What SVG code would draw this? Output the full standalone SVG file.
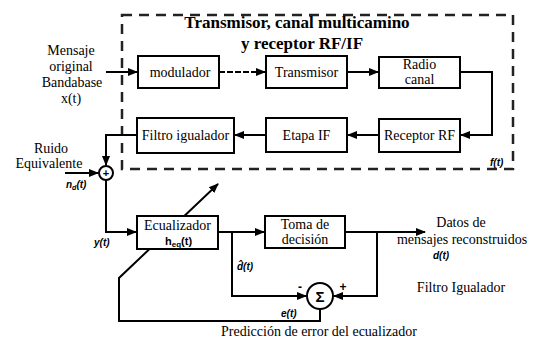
<svg xmlns="http://www.w3.org/2000/svg" width="546" height="341" viewBox="0 0 546 341">
<defs>
<marker id="ah" viewBox="0 0 10 10" refX="9" refY="5" markerWidth="5" markerHeight="5" orient="auto-start-reverse">
<path d="M0,1 L10,5 L0,9 z" fill="#000"/>
</marker>
<style>
.box{fill:#fff;stroke:#000;stroke-width:2}
.ln{fill:none;stroke:#000;stroke-width:2}
.t{font-family:"Liberation Serif","Times New Roman",serif;font-size:14px;fill:#000}
.tb{font-family:"Liberation Serif","Times New Roman",serif;font-size:17px;font-weight:bold;fill:#000}
.lab{font-family:"Liberation Sans",sans-serif;font-size:10px;font-weight:bold;font-style:italic;fill:#000}
</style>
</defs>
<rect width="546" height="341" fill="#fff"/>
<g id="frame">
<rect x="122" y="15" width="391" height="154" fill="none" stroke="#222" stroke-width="2.5" stroke-dasharray="10,7"/>
<text class="tb" x="297" y="28" text-anchor="middle">Transmisor, canal multicamino</text>
<text class="tb" x="302" y="49" text-anchor="middle">y receptor RF/IF</text>
<text class="lab" x="490" y="166">f(t)</text>
</g>
<g id="connectors">
<line class="ln" x1="106" y1="72" x2="137" y2="72" marker-end="url(#ah)"/>
<line class="ln" x1="219" y1="72" x2="265" y2="72" stroke-dasharray="6,2" marker-end="url(#ah)"/>
<line class="ln" x1="347" y1="72" x2="378" y2="72" marker-end="url(#ah)"/>
<polyline class="ln" points="460,72 492,72 492,135 461,135" marker-end="url(#ah)"/>
<line class="ln" x1="379" y1="135" x2="348" y2="135" marker-end="url(#ah)"/>
<line class="ln" x1="265" y1="135" x2="235" y2="135" marker-end="url(#ah)"/>
<polyline class="ln" points="137,135 106,135 106,165" marker-end="url(#ah)"/>
<line class="ln" x1="65" y1="173" x2="98" y2="173" marker-end="url(#ah)"/>
<polyline class="ln" points="106,180 106,232 136,232" marker-end="url(#ah)"/>
<line class="ln" x1="218" y1="232" x2="264" y2="232" marker-end="url(#ah)"/>
<line class="ln" x1="345" y1="232" x2="425" y2="232" marker-end="url(#ah)"/>
<polyline class="ln" points="377,232 377,296 334,296" marker-end="url(#ah)"/>
<polyline class="ln" points="232,232 232,296 306,296" marker-end="url(#ah)"/>
<polyline class="ln" points="320,309 320,321 119,321 119,278 218,184" marker-end="url(#ah)"/>
</g>
<g id="input">
<text class="t" x="71" y="55" text-anchor="middle">Mensaje</text>
<text class="t" x="71" y="71" text-anchor="middle">original</text>
<text class="t" x="72" y="87" text-anchor="middle">Bandabase</text>
<text class="t" x="71" y="103" text-anchor="middle">x(t)</text>
</g>
<g id="noise">
<text class="t" x="51" y="153" text-anchor="middle">Ruido</text>
<text class="t" x="49" y="168" text-anchor="middle">Equivalente</text>
<text class="lab" x="66" y="188">n<tspan font-size="7" dy="2">d</tspan><tspan dy="-2">(t)</tspan></text>
</g>
<g id="modulador">
<rect class="box" x="138" y="56" width="81" height="32"/>
<text class="t" x="180" y="77" text-anchor="middle">modulador</text>
</g>
<g id="transmisor">
<rect class="box" x="266" y="56" width="81" height="32"/>
<text class="t" x="306.5" y="77" text-anchor="middle">Transmisor</text>
</g>
<g id="radio-canal">
<rect class="box" x="379" y="57" width="81" height="31"/>
<text class="t" x="419.5" y="69" text-anchor="middle">Radio</text>
<text class="t" x="419.5" y="84" text-anchor="middle">canal</text>
</g>
<g id="receptor-rf">
<rect class="box" x="379" y="119" width="81" height="33"/>
<text class="t" x="419.5" y="140" text-anchor="middle">Receptor RF</text>
</g>
<g id="etapa-if">
<rect class="box" x="266" y="118" width="81" height="34"/>
<text class="t" x="306.5" y="140" text-anchor="middle">Etapa IF</text>
</g>
<g id="filtro-igualador">
<rect class="box" x="137" y="118" width="97" height="35"/>
<text class="t" x="185.5" y="140" text-anchor="middle">Filtro igualador</text>
</g>
<g id="suma">
<circle cx="106" cy="173" r="7" fill="#fff" stroke="#000" stroke-width="2"/>
<text x="106" y="177" text-anchor="middle" font-family="Liberation Sans,sans-serif" font-size="11" font-weight="bold">+</text>
</g>
<g id="ecualizador">
<rect class="box" x="137" y="216" width="81" height="33"/>
<text class="t" x="177.5" y="230" text-anchor="middle">Ecualizador</text>
<text x="165" y="245" font-family="Liberation Sans,sans-serif" font-size="11" font-weight="bold">h<tspan font-size="8" dy="2">eq</tspan><tspan dy="-2">(t)</tspan></text>
<text class="lab" x="94" y="246">y(t)</text>
</g>
<g id="toma-decision">
<rect class="box" x="265" y="216" width="80" height="32"/>
<text class="t" x="305" y="229" text-anchor="middle">Toma de</text>
<text class="t" x="305" y="244" text-anchor="middle">decisión</text>
</g>
<g id="sigma">
<circle cx="320" cy="296" r="13" fill="#fff" stroke="#000" stroke-width="2"/>
<text x="320" y="302" text-anchor="middle" font-family="Liberation Sans,sans-serif" font-size="15" font-weight="bold">Σ</text>
<text x="300" y="291" text-anchor="middle" font-family="Liberation Sans,sans-serif" font-size="12" font-weight="bold">-</text>
<text x="343" y="291" text-anchor="middle" font-family="Liberation Sans,sans-serif" font-size="12" font-weight="bold">+</text>
<text class="lab" x="237" y="270">d̂(t)</text>
<text class="lab" x="281" y="317">e(t)</text>
</g>
<g id="salida">
<text class="t" x="461" y="227" text-anchor="middle">Datos de</text>
<text class="t" x="462" y="244" text-anchor="middle">mensajes reconstruidos</text>
<text class="lab" x="433" y="259">d(t)</text>
<text class="t" x="461" y="292" text-anchor="middle">Filtro Igualador</text>
<text class="t" x="319" y="336" text-anchor="middle">Predicción de error del ecualizador</text>
</g>
</svg>
